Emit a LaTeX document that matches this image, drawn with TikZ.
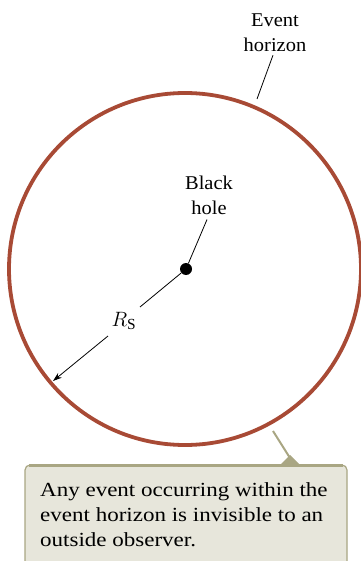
\documentclass[tikz,border=0pt]{standalone}
\usepackage{fontspec}
\setmainfont{Liberation Serif}
\newfontfamily\labelfont[FakeStretch=1.05]{Liberation Serif}
\newfontfamily\notefont[FakeStretch=1.15]{Liberation Serif}
\usetikzlibrary{arrows.meta, positioning}

\definecolor{horizonred}{HTML}{A84A35}
\definecolor{notefill}{HTML}{E7E6DB}
\definecolor{noteedge}{HTML}{A9A683}

\begin{document}
\begin{tikzpicture}[
    x=1pt, y=-1pt,
    label/.style={font=\labelfont\fontsize{19.5}{25}\selectfont, align=center, inner sep=0pt},
    leader/.style={line width=0.8pt},
    note/.style={font=\notefont\fontsize{20}{25}\selectfont, align=left, anchor=north west, inner sep=0pt},
    >={Stealth[length=9pt, width=6pt]}
  ]
  \useasboundingbox (0,0) rectangle (360,561);

  % --- Event horizon ---
  \draw[horizonred, line width=3.8pt] (185,269) circle (176);
  \node[label] (ehlabel) at (275,33) {Event\\horizon};
  \coordinate (ehpt) at (257,99);
  \draw[leader] ([shift={(-2,3)}]ehlabel.south) -- (ehpt);

  % --- Black hole ---
  \node[circle, fill=black, inner sep=0pt, minimum size=12pt] (bh) at (186,269) {};
  \node[label] (bhlabel) at (209,195) {Black\\hole};
  \draw[leader] ([shift={(-2,5)}]bhlabel.south) -- (bh);

  % --- Schwarzschild radius ---
  \node[font=\fontsize{22}{24}\selectfont, inner sep=0pt] (rs) at (124,321) {$R_{\mathrm{S}}$};
  \coordinate (rsend) at (53,381);
  \draw[leader] (bh) -- ([shift={(16,-14)}]rs.center);
  \draw[leader, ->] ([shift={(-16,15)}]rs.center) -- (rsend);

  % --- Callout ---
  \fill[notefill, rounded corners=5pt] (25,465) rectangle (347,580);
  \draw[noteedge, line width=1.2pt, rounded corners=5pt]
    (25,580) -- (25,465) -- (347,465) -- (347,580);
  \draw[noteedge, line width=3pt] (29,465) -- (343,465);
  \coordinate (notetip) at (273,431);
  \fill[noteedge] (280,465) -- (290,455) -- (300,465) -- cycle;
  \draw[noteedge, line width=2pt] (notetip) -- (290,458);
  \node[note] (note) at (40,482) {Any event occurring within the\\event horizon is invisible to an\\outside observer.};

\end{tikzpicture}
\end{document}
